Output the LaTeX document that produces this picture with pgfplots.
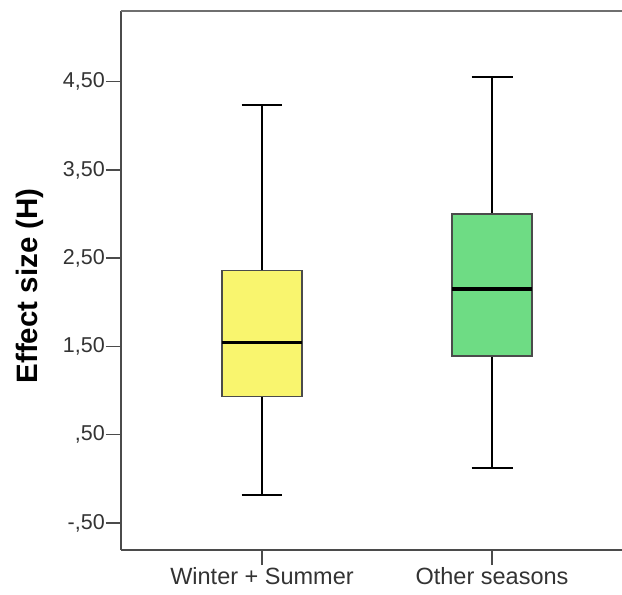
\documentclass[border=0pt]{standalone}
\usepackage{pgfplots}
\pgfplotsset{compat=1.18}
\usepgfplotslibrary{statistics}
\usepackage{fontspec}
\setmainfont{Liberation Sans}
\definecolor{boxyellow}{RGB}{249,245,110}
\definecolor{boxgreen}{RGB}{110,220,132}
\definecolor{axgray}{RGB}{75,75,75}
\begin{document}
\begin{tikzpicture}
\useasboundingbox (-121pt,-45pt) rectangle (501pt,550pt);
\begin{axis}[
  scale only axis, width=501pt, height=539pt,
  xmin=0.387, xmax=2.565, ymin=-0.806, ymax=5.301,
  axis x line=bottom, axis y line=left,
  axis line style={-, draw=axgray, line width=1.5pt},
  xtick={1,2}, xticklabels={Winter + Summer, Other seasons},
  ytick={-0.5,0.5,1.5,2.5,3.5,4.5},
  yticklabels={{-,50},{,50},{1,50},{2,50},{3,50},{4,50}},
  tick align=outside, major tick length=15pt,
  tick style={draw=axgray, line width=1.5pt},
  yticklabel style={font=\fontsize{21.5}{25}\selectfont, text=black!80, inner sep=1pt},
  xticklabel style={font=\fontsize{23.5}{27}\selectfont, text=black!80, inner sep=2pt},
  ylabel={\textbf{Effect size (H)}},
  every axis y label/.style={at={(axis description cs:-0.1816,0.49)}, rotate=90, anchor=center, font=\fontsize{29.5}{34}\selectfont},
  boxplot/draw direction=y,
  boxplot/every whisker/.style={draw=black, line width=2pt},
  boxplot/every median/.style={draw=black, line width=3.5pt},
  clip=false,
]
\addplot[boxplot prepared={draw position=1, lower whisker=-0.183, lower quartile=0.933, median=1.547, upper quartile=2.358, upper whisker=4.235, box extend=0.348, whisker extend=0.178}, draw=axgray, fill=boxyellow, line width=1.2pt, solid] coordinates {};
\addplot[boxplot prepared={draw position=2, lower whisker=0.123, lower quartile=1.392, median=2.151, upper quartile=3.0, upper whisker=4.553, box extend=0.348, whisker extend=0.178}, draw=axgray, fill=boxgreen, line width=1.2pt, solid] coordinates {};
\draw[axgray!80, line width=1.5pt] (rel axis cs:0,1) -- (rel axis cs:1,1);
\end{axis}
\end{tikzpicture}
\end{document}
